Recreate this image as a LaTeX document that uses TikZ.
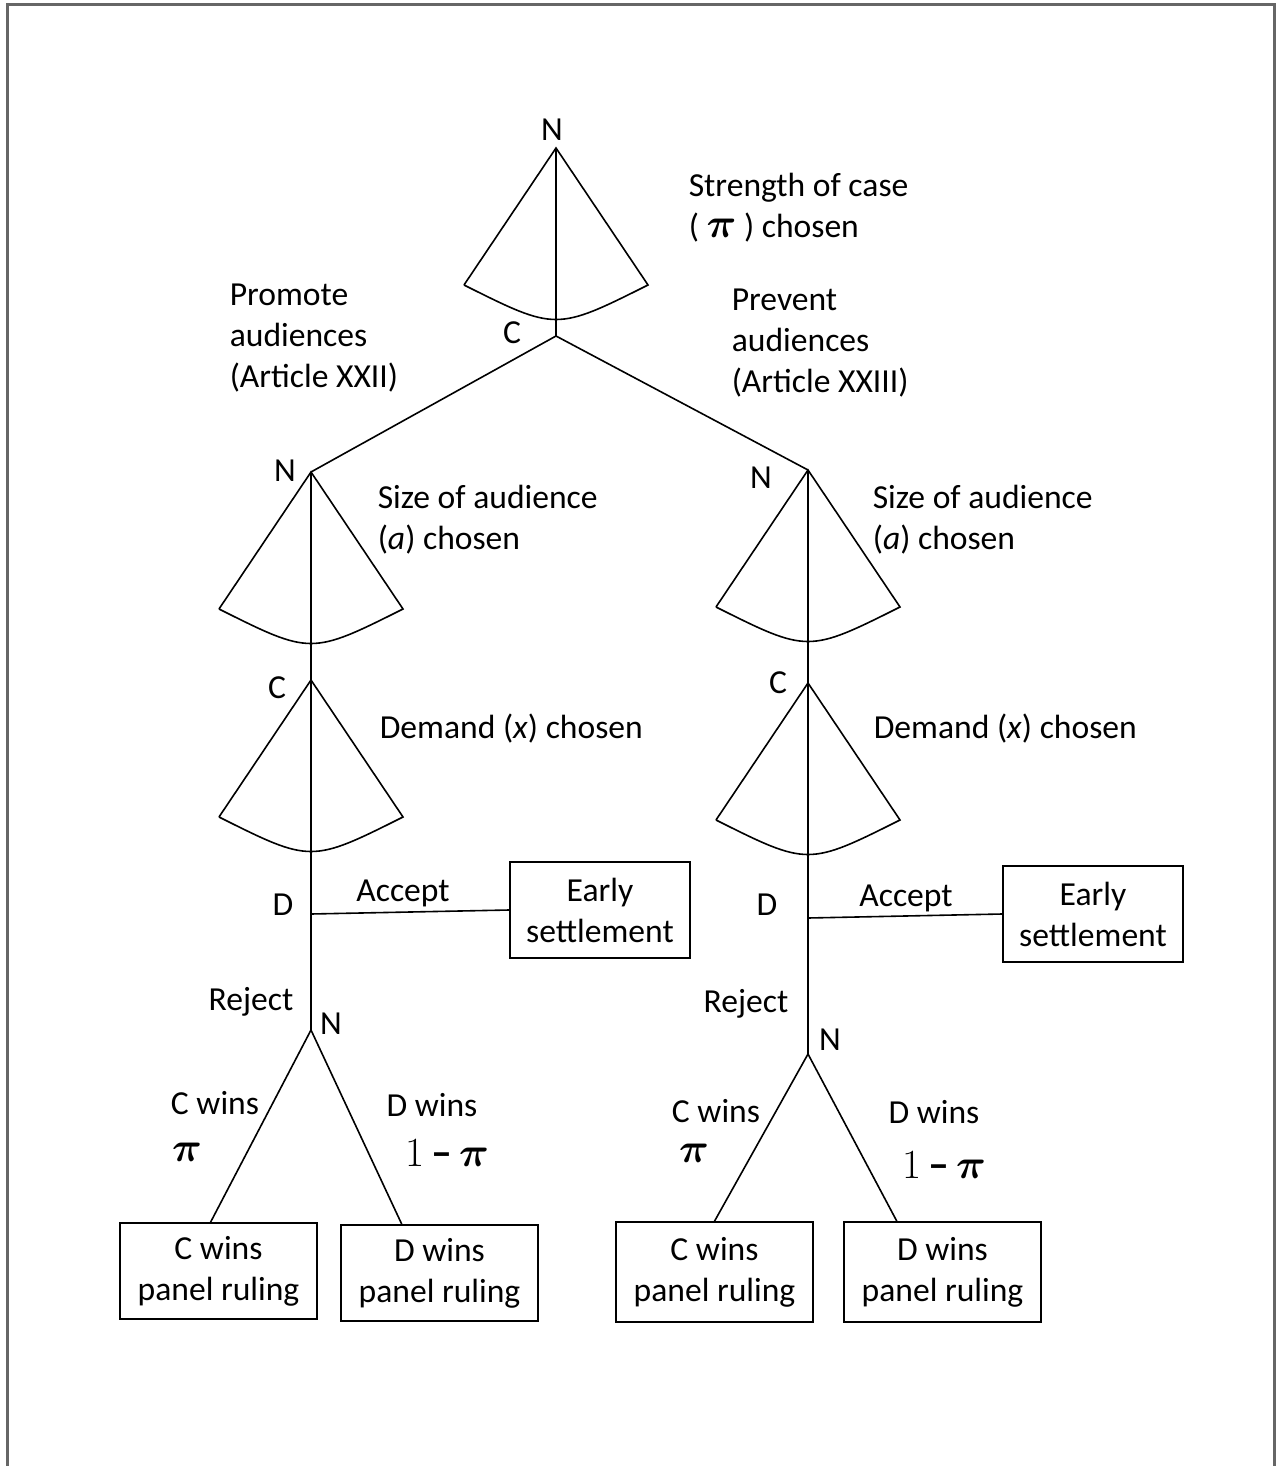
\documentclass[tikz,border=0pt]{standalone}
\usepackage{fontspec}
\usepackage{amsmath}
\setmainfont{Carlito}
\usetikzlibrary{calc}
\begin{document}
\begin{tikzpicture}[
        x=0.5pt, y=-0.5pt,
        line width=0.8pt,
        txt/.style={font=\fontsize{16.8}{20.5}\selectfont, inner sep=0pt, align=left, anchor=west},
        lbl/.style={font=\fontsize{16.8}{20.5}\selectfont, inner sep=0pt},
        outcome/.style={draw, font=\fontsize{16.8}{20.5}\selectfont, align=center,
            minimum width=90pt, minimum height=48pt, inner sep=0pt},
        prob/.style={font=\fontsize{21}{24}\selectfont, inner sep=0pt},
        fan/.pic={\draw (-92,137) -- (0,0) -- (92,137) .. controls (0,183) .. (-92,137);}
        ]

        \useasboundingbox (0,0) rectangle (1276,1466);
        \draw[gray!80!black, line width=1.5pt] (7,1466) -- (7,5) -- (1274,5) -- (1274,1466);

        % root
        \coordinate (rootN) at (556,148);
        \coordinate (rootC) at (556,336);
        \node[lbl] (nrootN) at (552,130) {N};
        \node[lbl] (nrootC) at (512,333) {C};
        \pic at (rootN) {fan};
        \draw (rootN) -- (rootC);
        \node[txt] (strength) at (688,208) {Strength of case\\( {\fontsize{22}{20.5}\selectfont$\boldsymbol{\pi}$} ) chosen};
        \node[txt] (promote) at (229,338) {Promote\\audiences\\(Article XXII)};
        \node[txt] (prevent) at (731,343) {Prevent\\audiences\\(Article XXIII)};

        % left subtree (Article XXII)
        \coordinate (LN) at (311,472);
        \coordinate (LC) at (311,680);
        \coordinate (LD) at (311,914);
        \coordinate (LN2) at (311,1030);
        \draw (rootC) -- (LN);
        \draw (LN) -- (LN2);
        \pic at (LN) {fan};
        \pic at (LC) {fan};
        \node[lbl] (nLN) at (285,471) {N};
        \node[lbl] (nLC) at (277,688) {C};
        \node[lbl] (nLD) at (283,905) {D};
        \node[lbl] (nLN2) at (331,1024) {N};
        \node[txt] (sizeL) at (377,520) {Size of audience\\(\textit{a}) chosen};
        \node[txt] (demandL) at (379,729) {Demand (\textit{x}) chosen};

        \node[outcome] (earlyL) at (600,910) {Early\\settlement};
        \draw (LD) -- (earlyL.west);
        \node[lbl] (acceptL) at (403,893) {Accept};
        \node[lbl] (rejectL) at (251,1002) {Reject};

        \node[outcome, minimum width=98.5pt] (cwinL) at (218.5,1271) {C wins\\panel ruling};
        \node[outcome, minimum width=98.5pt] (dwinL) at (439.5,1273) {D wins\\panel ruling};
        \draw (LN2) -- ($(cwinL.north west)!0.46!(cwinL.north east)$);
        \draw (LN2) -- ($(dwinL.north west)!0.31!(dwinL.north east)$);
        \node[lbl] (cwL) at (215,1103) {C wins};
        \node[prob] (piL) at (187,1152) {$\boldsymbol{\pi}$};
        \node[lbl] (dwL) at (432,1105) {D wins};
        \node[prob] (onepiL) at (447,1153) {$1$\,\textbf{–}\,$\boldsymbol{\pi}$};

        % right subtree (Article XXIII)
        \coordinate (RN) at (808,470);
        \coordinate (RC) at (808,683);
        \coordinate (RD) at (808,918);
        \coordinate (RN2) at (808,1054);
        \draw (rootC) -- (RN);
        \draw (RN) -- (RN2);
        \pic at (RN) {fan};
        \pic at (RC) {fan};
        \node[lbl] (nRN) at (761,478) {N};
        \node[lbl] (nRC) at (778,683) {C};
        \node[lbl] (nRD) at (767,905) {D};
        \node[lbl] (nRN2) at (830,1040) {N};
        \node[txt] (sizeR) at (872,520) {Size of audience\\(\textit{a}) chosen};
        \node[txt] (demandR) at (873,729) {Demand (\textit{x}) chosen};

        \node[outcome] (earlyR) at (1093,914) {Early\\settlement};
        \draw (RD) -- (earlyR.west);
        \node[lbl] (acceptR) at (906,898) {Accept};
        \node[lbl] (rejectR) at (746,1004) {Reject};

        \node[outcome, minimum width=98.5pt, minimum height=50pt] (cwinR) at (714.5,1272) {C wins\\panel ruling};
        \node[outcome, minimum width=98.5pt, minimum height=50pt] (dwinR) at (942.5,1272) {D wins\\panel ruling};
        \draw (RN2) -- ($(cwinR.north west)!0.5!(cwinR.north east)$);
        \draw (RN2) -- ($(dwinR.north west)!0.27!(dwinR.north east)$);
        \node[lbl] (cwR) at (716,1111) {C wins};
        \node[prob] (piR) at (694,1153) {$\boldsymbol{\pi}$};
        \node[lbl] (dwR) at (934,1112) {D wins};
        \node[prob] (onepiR) at (944,1165) {$1$\,\textbf{–}\,$\boldsymbol{\pi}$};

    \end{tikzpicture}
\end{document}
